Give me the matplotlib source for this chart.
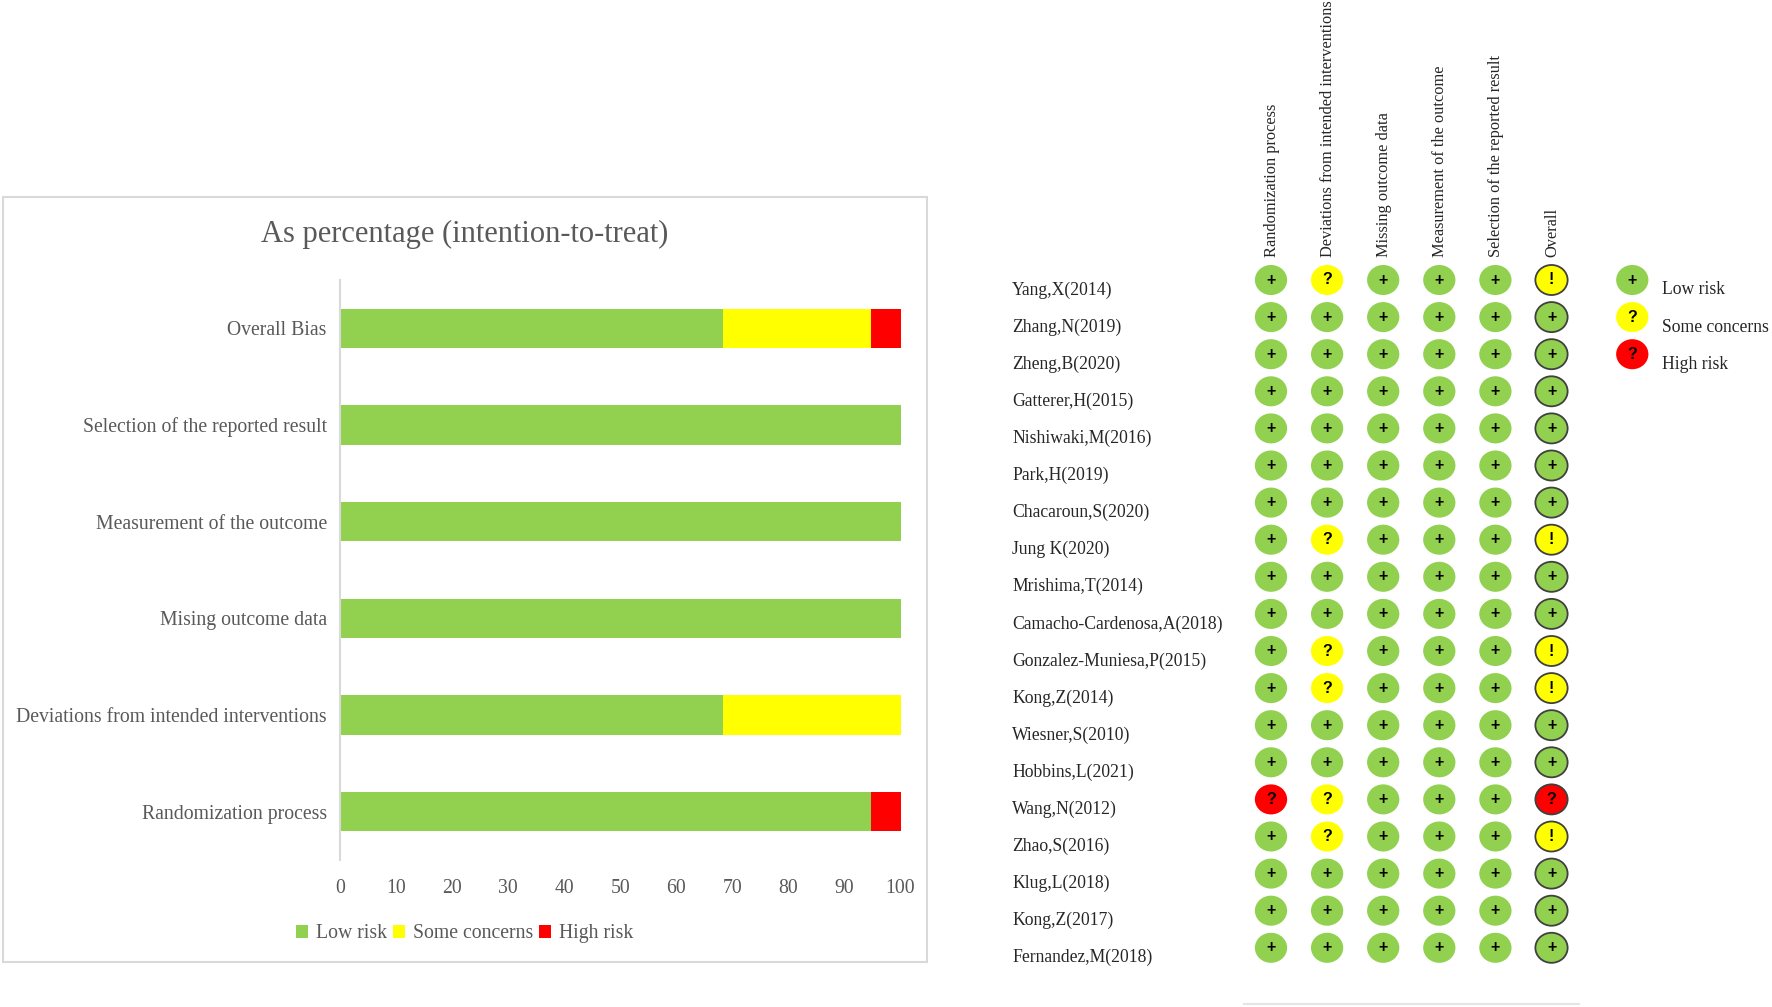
#!/usr/bin/env python3

##
# plot.py
#
# Risk of bias summary: stacked percentages on the left, traffic light grid on the right.
##
import matplotlib
matplotlib.use('Agg')
import matplotlib.pyplot as plt
from matplotlib.patches import Ellipse, Rectangle

WIDTH, HEIGHT = 1772, 1007
DPI = 100

GREEN = '#92D050'
YELLOW = '#FFFF00'
RED = '#FF0000'
TEXT = '#595959'
DARK = '#262626'
LINE = '#D9D9D9'

# Bottom to top, as the bars are drawn
BIAS_DOMAINS = ['Randomization process', 'Deviations from intended interventions', 'Mising outcome data',
                'Measurement of the outcome', 'Selection of the reported result', 'Overall Bias']
LOW_RISK = [94.7, 68.4, 100, 100, 100, 68.4]
SOME_CONCERNS = [0, 31.6, 0, 0, 0, 26.3]
HIGH_RISK = [5.3, 0, 0, 0, 0, 5.3]
X_TICKS = [0, 10, 20, 30, 40, 50, 60, 70, 80, 90, 100]

COLUMNS = ['Randomization process', 'Deviations from intended interventions', 'Missing outcome data',
           'Measurement of the outcome', 'Selection of the reported result', 'Overall']
STUDIES = ['Yang,X(2014)', 'Zhang,N(2019)', 'Zheng,B(2020)', 'Gatterer,H(2015)', 'Nishiwaki,M(2016)',
           'Park,H(2019)', 'Chacaroun,S(2020)', 'Jung K(2020)', 'Mrishima,T(2014)',
           'Camacho-Cardenosa,A(2018)', 'Gonzalez-Muniesa,P(2015)', 'Kong,Z(2014)', 'Wiesner,S(2010)',
           'Hobbins,L(2021)', 'Wang,N(2012)', 'Zhao,S(2016)', 'Klug,L(2018)', 'Kong,Z(2017)',
           'Fernandez,M(2018)']
# One letter per column: L low, S some concerns, H high
JUDGEMENTS = ['LSLLLS', 'LLLLLL', 'LLLLLL', 'LLLLLL', 'LLLLLL', 'LLLLLL', 'LLLLLL', 'LSLLLS', 'LLLLLL',
              'LLLLLL', 'LSLLLS', 'LSLLLS', 'LLLLLL', 'LLLLLL', 'HSLLLH', 'LSLLLS', 'LLLLLL', 'LLLLLL',
              'LLLLLL']
KEY_LABELS = ['Low risk', 'Some concerns', 'High risk']
KEY_LEVELS = ['L', 'S', 'H']

FILL = {'L': GREEN, 'S': YELLOW, 'H': RED}
SYMBOL = {'L': '+', 'S': '?', 'H': '?'}


def axes_at(figure, left, top, right, bottom):
    # Axes placed by pixel edges, measured from the top left of the image
    return figure.add_axes([left / WIDTH, 1 - bottom / HEIGHT, (right - left) / WIDTH, (bottom - top) / HEIGHT])


def draw_bars(figure):
    # The frame around the chart
    figure.add_artist(Rectangle((3 / WIDTH, 1 - 962 / HEIGHT), 924 / WIDTH, 765 / HEIGHT, zorder=-1,
                                transform=figure.transFigure, facecolor='white', edgecolor=LINE, linewidth=1.5))

    ax = axes_at(figure, 340, 280, 900.5, 860)
    positions = range(len(BIAS_DOMAINS))
    left = [0] * len(BIAS_DOMAINS)
    handles = []
    for label, values, color in zip(KEY_LABELS, [LOW_RISK, SOME_CONCERNS, HIGH_RISK], [GREEN, YELLOW, RED]):
        handles.append(ax.barh(positions, values, height=0.41, left=left, color=color, label=label))
        left = [a + b for a, b in zip(left, values)]

    ax.set_xlim(0, 100)
    ax.set_ylim(-0.5, 5.5)
    ax.set_xticks(X_TICKS)
    ax.set_yticks(list(positions))
    ax.set_yticklabels(BIAS_DOMAINS)
    ax.tick_params(axis='both', length=0, labelcolor=TEXT, labelsize=14.2)
    ax.tick_params(axis='x', pad=14)
    ax.tick_params(axis='y', pad=9.5)
    for name in ['top', 'right', 'bottom']:
        ax.spines[name].set_visible(False)
    ax.spines['left'].set_color(LINE)
    ax.spines['left'].set_linewidth(1.5)
    ax.patch.set_alpha(0)

    figure.text(464.5 / WIDTH, 1 - 234.5 / HEIGHT, 'As percentage (intention-to-treat)', color=TEXT,
                fontsize=22, ha='center', va='center')

    ax.legend(handles=handles, loc='center', bbox_to_anchor=(0.222, -0.127), ncol=3, frameon=False,
              fontsize=14.2, labelcolor=TEXT, handlelength=0.62, handleheight=0.62, handletextpad=0.4,
              columnspacing=0.3, borderpad=0, borderaxespad=0)


def draw_dot(ax, x, y, level, symbol, outlined):
    ax.add_patch(Ellipse((x, y), 0.575, 0.81, facecolor=FILL[level], clip_on=False,
                         edgecolor='#404040' if outlined else 'none', linewidth=1.3 if outlined else 0))
    ax.text(x, y, symbol, ha='center', va='center', fontsize=11.5, fontweight='bold', color='black',
            family='Liberation Sans', clip_on=False)


def draw_grid(figure):
    # One unit is a column across and a row down, centred on the first dot
    ax = axes_at(figure, 1271, 280, 1271 + 56.1 * 7, 280 + 37.1 * 18)
    ax.set_xlim(0, 7)
    ax.set_ylim(18, 0)
    ax.axis('off')

    for row, (study, marks) in enumerate(zip(STUDIES, JUDGEMENTS)):
        ax.annotate(study, (0, row), xytext=(1012 - 1271, -10), textcoords='offset pixels',
                    ha='left', va='center', fontsize=12.7, color=DARK, annotation_clip=False)
        for col, level in enumerate(marks):
            overall = col == len(COLUMNS) - 1
            symbol = '!' if overall and level == 'S' else SYMBOL[level]
            draw_dot(ax, col, row, level, symbol, overall)

    for col, name in enumerate(COLUMNS):
        ax.annotate(name, (col, 0), xytext=(1, 23), textcoords='offset pixels', rotation=90,
                    ha='center', va='bottom', fontsize=11.8, color=DARK, annotation_clip=False)

    for row, (label, level) in enumerate(zip(KEY_LABELS, KEY_LEVELS)):
        draw_dot(ax, 6.44, row, level, SYMBOL[level], False)
        ax.annotate(label, (6.44, row), xytext=(30, -10), textcoords='offset pixels',
                    ha='left', va='center', fontsize=12.7, color=DARK, annotation_clip=False)

    # Stray rule under the grid
    figure.add_artist(plt.Line2D([1244 / WIDTH, 1579 / WIDTH], [1 - 1004 / HEIGHT] * 2, color='#E5E5E5', linewidth=1.5))


if __name__ == '__main__':
    plt.rcParams['font.family'] = ['Liberation Serif', 'DejaVu Serif']
    figure = plt.figure(figsize=(WIDTH / DPI, HEIGHT / DPI), dpi=DPI)
    draw_bars(figure)
    draw_grid(figure)
    figure.savefig('out.png', dpi=DPI)
    plt.close()
